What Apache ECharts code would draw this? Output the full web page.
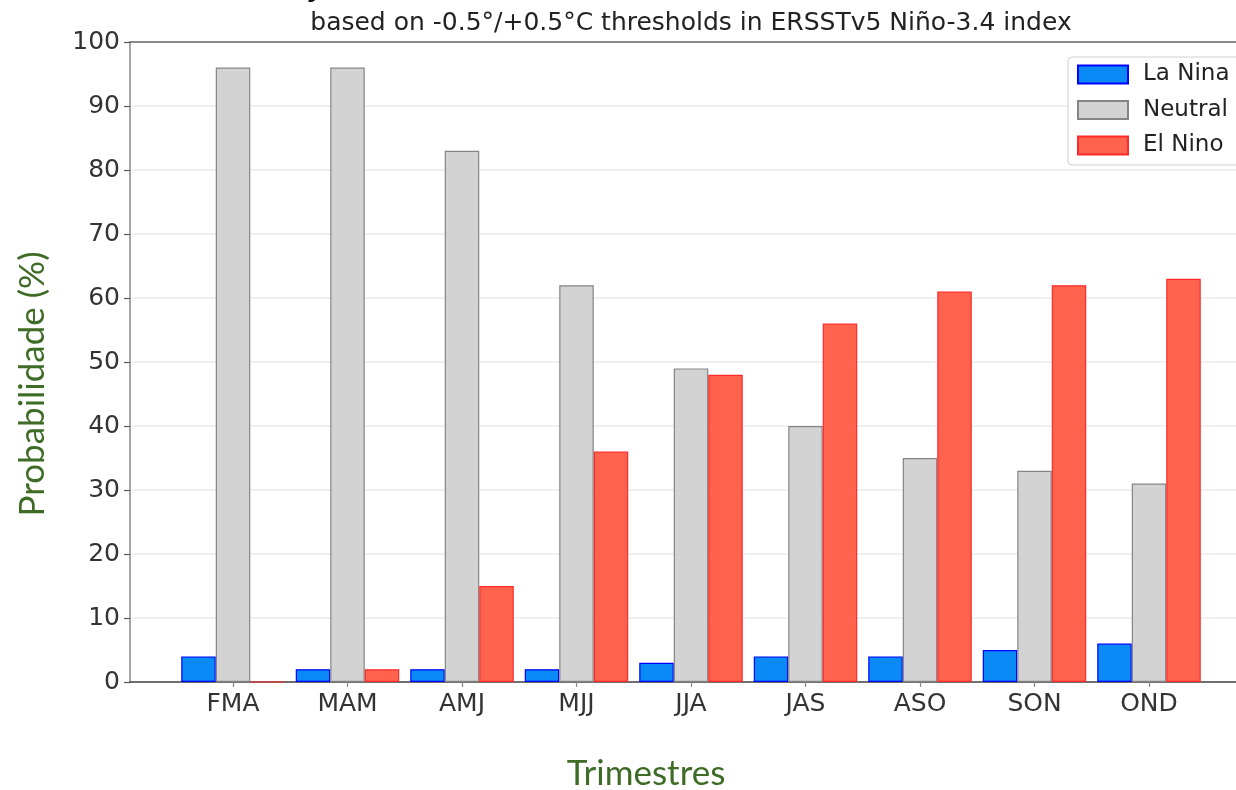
<!DOCTYPE html>
<html>
<head>
<meta charset="utf-8">
<script src="https://cdn.jsdelivr.net/npm/echarts@6/dist/echarts.min.js"></script>
<style>
html,body{margin:0;padding:0;background:#fff;}
#chart{width:1236px;height:790px;}
</style>
</head>
<body>
<div id="chart"></div>
<script>
const categories = ['FMA','MAM','AMJ','MJJ','JJA','JAS','ASO','SON','OND'];
const laNina  = [4, 2, 2, 2, 3, 4, 4, 5, 6];
const neutral = [96, 96, 83, 62, 49, 40, 35, 33, 31];
const elNino  = [0, 2, 15, 36, 48, 56, 61, 62, 63];
const yTicks = { min: 0, max: 100, interval: 10 };
const titleText = 'Early-March 2023 CPC/IRI Official Probabilistic ENSO Forecasts';
const subtitleText = 'based on -0.5°/+0.5°C thresholds in ERSSTv5 Niño-3.4 index';
const yName = 'Probabilidade (%)';
const xName = 'Trimestres';

const FONT = 'DejaVu Sans';
const GREEN = '#3e6b25';

const chart = echarts.init(document.getElementById('chart'), null, {renderer: 'canvas'});

const barCommon = {
  type: 'bar',
  xAxisIndex: 2,
  yAxisIndex: 1,
  barWidth: 34.5,
  barGap: '0%'
};

chart.setOption({
  animation: false,
  backgroundColor: '#ffffff',
  textStyle: { fontFamily: FONT },
  grid: [
    { left: 130, right: 0, top: 42, bottom: 108 },
    { left: 175.75, right: 29.75, top: 42, bottom: 108 }
  ],
  xAxis: [
    { type: 'value', gridIndex: 0, min: 0, max: 1, position: 'bottom', axisLabel: {show: false}, axisTick: {show: false}, splitLine: {show: false},
      axisLine: { show: true, lineStyle: { color: '#444', width: 1.5 } } },
    { type: 'value', gridIndex: 0, min: 0, max: 1, position: 'top', axisLabel: {show: false}, axisTick: {show: false}, splitLine: {show: false},
      axisLine: { show: true, lineStyle: { color: '#666', width: 1.5 } } },
    { type: 'category', gridIndex: 1, data: categories,
      axisLine: { show: false },
      axisTick: { show: true, alignWithLabel: true, length: 5, lineStyle: { color: '#888', width: 1.2 } },
      axisLabel: { fontSize: 25, color: '#333', margin: 10, fontFamily: FONT } }
  ],
  yAxis: [
    { type: 'value', gridIndex: 0, min: yTicks.min, max: yTicks.max, interval: yTicks.interval,
      axisLine: { show: true, lineStyle: { color: '#888', width: 1.5 } },
      axisTick: { show: true, length: 6, lineStyle: { color: '#555', width: 1.2 } },
      axisLabel: { fontSize: 25, color: '#333', margin: 10, fontFamily: FONT } ,
      splitLine: { show: true, lineStyle: { color: '#ebebeb', width: 1.5 } } },
    { type: 'value', gridIndex: 1, min: yTicks.min, max: yTicks.max, interval: yTicks.interval, show: false }
  ],
  legend: {
    orient: 'vertical',
    left: 1068,
    top: 57,
    itemWidth: 50,
    itemHeight: 18,
    itemGap: 12.5,
    icon: 'rect',
    padding: [6, 40, 8, 9],
    backgroundColor: '#fff',
    borderColor: '#d0d0d0',
    borderWidth: 1,
    borderRadius: 4,
    textStyle: { fontSize: 23, color: '#222', fontFamily: FONT, padding: [0, 0, 0, 10] },
    data: ['La Nina', 'Neutral', 'El Nino']
  },
  graphic: [
    { type: 'text', x: 691, y: -10, style: { text: titleText, fontFamily: FONT, fontWeight: 'bold', fontSize: 25, fill: '#111', align: 'center', verticalAlign: 'middle' } },
    { type: 'text', x: 691, y: 23, style: { text: subtitleText, fontFamily: FONT, fontSize: 25, fill: '#222', align: 'center', verticalAlign: 'middle' } },
    { type: 'text', x: 33, y: 384, rotation: Math.PI / 2, style: { text: yName, fontFamily: 'Lato', fontSize: 35, fill: GREEN, align: 'center', verticalAlign: 'middle' } },
    { type: 'text', x: 646, y: 774, style: { text: xName, fontFamily: 'Lato', fontSize: 35, fill: GREEN, align: 'center', verticalAlign: 'middle' } }
  ],
  series: [
    Object.assign({}, barCommon, { name: 'La Nina', data: laNina,
      itemStyle: { color: '#0a8af7', borderColor: '#0000ff', borderWidth: 1.2 } }),
    Object.assign({}, barCommon, { name: 'Neutral', data: neutral,
      itemStyle: { color: '#d3d3d3', borderColor: '#858585', borderWidth: 1.2 } }),
    Object.assign({}, barCommon, { name: 'El Nino', data: elNino,
      itemStyle: { color: '#ff624d', borderColor: '#ff2a2a', borderWidth: 1.2 } })
  ]
});
</script>
</body>
</html>
